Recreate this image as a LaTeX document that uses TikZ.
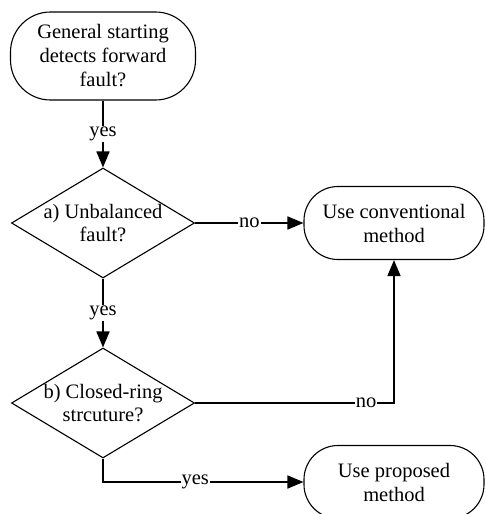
\documentclass[tikz,border=0pt]{standalone}
\usepackage{fontspec}
\setmainfont{Liberation Serif}
\usetikzlibrary{arrows.meta,shapes.geometric}

\begin{document}
\begin{tikzpicture}[x=1pt, y=-1pt,
    term/.style={draw=black, line width=1.1pt, rounded corners=34pt, fill=white,
                 align=center, minimum width=180pt, minimum height=73pt,
                 font=\fontsize{20.5}{24}\selectfont},
    decide/.style={draw=black, line width=1.1pt, diamond, aspect=1.66, inner sep=0pt,
                   align=center, minimum width=183pt, minimum height=110pt,
                   font=\fontsize{20.5}{23}\selectfont},
    arrow/.style={-{Triangle[length=16pt,width=13pt]}, draw=black, line width=1.7pt},
    lbl/.style={fill=white, inner sep=1pt, font=\fontsize{20.5}{24}\selectfont}
  ]
    \useasboundingbox (0,0) rectangle (485,514);

    \node[term, minimum width=185pt, minimum height=88pt, rounded corners=40pt]
      (start) at (103,56) {General starting\\detects forward\\fault?};
    \node[decide] (unbal) at (103,223) {a) Unbalanced\\fault?};
    \node[decide] (ring)  at (103,403) {b) Closed-ring\\strcuture?};
    \node[term] (conv) at (394,223) {Use conventional\\method};
    \node[term] (prop) at (394,482) {Use proposed\\method};

    \draw[arrow] (start) -- node[lbl] {yes} (unbal);
    \draw[arrow] (unbal) -- node[lbl] {no} (conv);
    \draw[arrow] (unbal) -- node[lbl] {yes} (ring);
    \draw[arrow] (ring.east) -| node[lbl, pos=0.43] {no} (conv.south);
    \draw[arrow] (ring.south) |- node[lbl, pos=0.73] {yes} (prop.west);
  \end{tikzpicture}
\end{document}
